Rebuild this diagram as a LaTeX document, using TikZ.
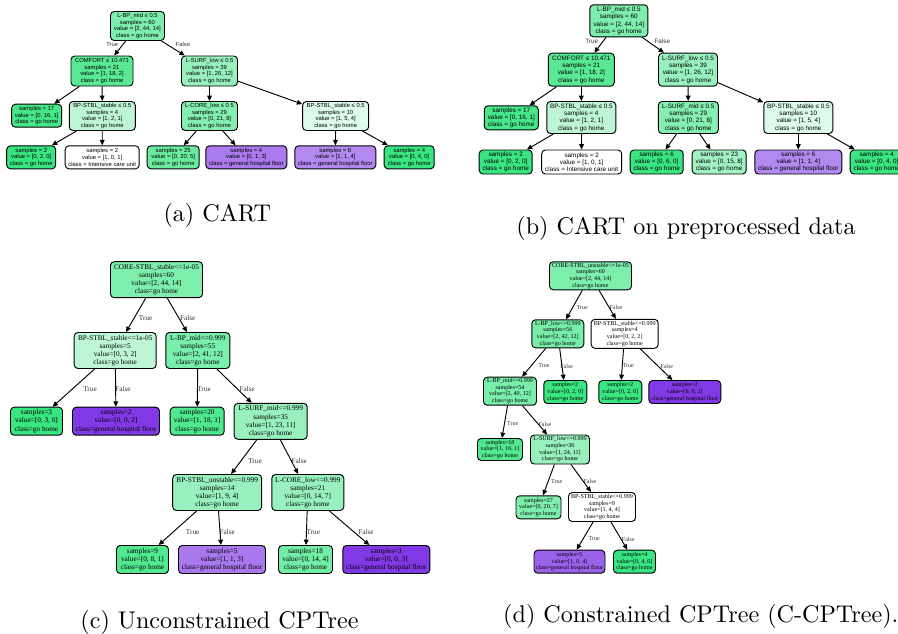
\documentclass[tikz,border=0pt]{standalone}
\usepackage{fontspec}
\newfontfamily\dtsans{Liberation Sans}
\newfontfamily\dtserif{Liberation Serif}
\usetikzlibrary{arrows.meta}
\definecolor{gohome}{HTML}{39E581}
\definecolor{hospfloor}{HTML}{8139E5}

\begin{document}
\begin{tikzpicture}[x=0.015cm, y=-0.015cm,
  box/.style 2 args={draw, rounded corners=1.6pt, line width=0.4pt, align=center,
    inner sep=0pt, minimum width=#1*0.015cm, minimum height=#2*0.015cm},
  g/.style={fill=gohome!#1!white},
  p/.style={fill=hospfloor!#1!white},
  wh/.style={fill=white},
  conn/.style={-{Triangle[length=2.3pt,width=2pt]}, line width=0.4pt},
  fa/.style={font=\dtsans\fontsize{2.5}{2.85}\selectfont},
  fb/.style={font=\dtsans\fontsize{2.7}{3.1}\selectfont},
  fc/.style={font=\dtserif\fontsize{3.1}{3.45}\selectfont},
  fd/.style={font=\dtserif\fontsize{2.58}{2.85}\selectfont},
  lbl/.style={text=black!80},
  captext/.style={font=\fontsize{10.3}{12}\selectfont}]
  \useasboundingbox (0,0) rectangle (898,633);

  % (a) CART
  \begin{scope}[every node/.style={fa}]
  \node[box={54}{29}, g=65] (a0) at (137.5,26) {L-BP\_mid ≤ 0.5\\samples = 60\\value = [2, 44, 14]\\class = go home};
  \node[box={62}{30}, g=84] (a1) at (102,71) {COMFORT ≤ 10.471\\samples = 21\\value = [1, 18, 2]\\class = go home};
  \node[box={56}{30}, g=52] (a2) at (209.5,71) {L-SURF\_low ≤ 0.5\\samples = 39\\value = [1, 26, 12]\\class = go home};
  \node[box={50}{23}, g=94] (a3) at (36.7,115.7) {samples = 17\\value = [0, 16, 1]\\class = go home};
  \node[box={66}{29}, g=33] (a4) at (102.3,116) {BP-STBL\_stable ≤ 0.5\\samples = 4\\value = [1, 2, 1]\\class = go home};
  \node[box={56}{29}, g=62] (a5) at (209.5,116) {L-CORE\_low ≤ 0.5\\samples = 29\\value = [0, 21, 8]\\class = go home};
  \node[box={66}{29}, g=17] (a6) at (335.7,116) {BP-STBL\_stable ≤ 0.5\\samples = 10\\value = [1, 5, 4]\\class = go home};
  \node[box={49}{23}, g=100] (a7) at (31.2,157.3) {samples = 2\\value = [0, 2, 0]\\class = go home};
  \node[box={74}{23}, wh] (a8) at (102.2,157.3) {samples = 2\\value = [1, 0, 1]\\class = Intensive care unit};
  \node[box={52}{23}, g=75] (a9) at (173.2,157.3) {samples = 25\\value = [0, 20, 5]\\class = go home};
  \node[box={81}{23}, p=67] (a10) at (246.3,157.3) {samples = 4\\value = [0, 1, 3]\\class = general hospital floor};
  \node[box={81}{23}, p=60] (a11) at (335.3,157.3) {samples = 6\\value = [1, 1, 4]\\class = general hospital floor};
  \node[box={50}{23}, g=100] (a12) at (409.2,157.3) {samples = 4\\value = [0, 4, 0]\\class = go home};
  \node[lbl] (aT) at (112.2,44.3) {True};
  \node[lbl] (aF) at (183,44.3) {False};
  \end{scope}
  \draw[conn] (a0) -- (a1);
  \draw[conn] (a0) -- (a2);
  \draw[conn] (a1) -- (a3);
  \draw[conn] (a1) -- (a4);
  \draw[conn] (a2) -- (a5);
  \draw[conn] (a2) -- (a6);
  \draw[conn] (a4) -- (a7);
  \draw[conn] (a4) -- (a8);
  \draw[conn] (a5) -- (a9);
  \draw[conn] (a5) -- (a10);
  \draw[conn] (a6) -- (a11);
  \draw[conn] (a6) -- (a12);
  \node[captext] (capa) at (217.3,215) {(a) CART};

  % (b) CART on preprocessed data
  \begin{scope}[every node/.style={fb}]
  \node[box={58}{32}, g=65] (b0) at (618.8,20.8) {L-BP\_mid ≤ 0.5\\samples = 60\\value = [2, 44, 14]\\class = go home};
  \node[box={66}{33}, g=84] (b1) at (581.3,69.7) {COMFORT ≤ 10.471\\samples = 21\\value = [1, 18, 2]\\class = go home};
  \node[box={59}{33}, g=52] (b2) at (688,69.7) {L-SURF\_low ≤ 0.5\\samples = 39\\value = [1, 26, 12]\\class = go home};
  \node[box={54}{24}, g=94] (b3) at (511.3,117.8) {samples = 17\\value = [0, 16, 1]\\class = go home};
  \node[box={69}{32}, g=33] (b4) at (581.3,117.5) {BP-STBL\_stable ≤ 0.5\\samples = 4\\value = [1, 2, 1]\\class = go home};
  \node[box={60}{32}, g=62] (b5) at (688.3,117.5) {L-SURF\_mid ≤ 0.5\\samples = 29\\value = [0, 21, 8]\\class = go home};
  \node[box={69}{32}, g=17] (b6) at (798.3,117.5) {BP-STBL\_stable ≤ 0.5\\samples = 10\\value = [1, 5, 4]\\class = go home};
  \node[box={53}{24}, g=100] (b7) at (505.7,162) {samples = 2\\value = [0, 2, 0]\\class = go home};
  \node[box={80}{24}, wh] (b8) at (581.7,162) {samples = 2\\value = [1, 0, 1]\\class = Intensive care unit};
  \node[box={53}{24}, g=100] (b9) at (656.7,162) {samples = 6\\value = [0, 6, 0]\\class = go home};
  \node[box={54}{24}, g=47] (b10) at (719.2,162) {samples = 23\\value = [0, 15, 8]\\class = go home};
  \node[box={87}{24}, p=60] (b11) at (798.3,162) {samples = 6\\value = [1, 1, 4]\\class = general hospital floor};
  \node[box={53}{24}, g=100] (b12) at (876.7,162) {samples = 4\\value = [0, 4, 0]\\class = go home};
  \node[lbl] (bT) at (591.7,41.7) {True};
  \node[lbl] (bF) at (662.3,41.7) {False};
  \end{scope}
  \draw[conn] (b0) -- (b1);
  \draw[conn] (b0) -- (b2);
  \draw[conn] (b1) -- (b3);
  \draw[conn] (b1) -- (b4);
  \draw[conn] (b2) -- (b5);
  \draw[conn] (b2) -- (b6);
  \draw[conn] (b4) -- (b7);
  \draw[conn] (b4) -- (b8);
  \draw[conn] (b5) -- (b9);
  \draw[conn] (b5) -- (b10);
  \draw[conn] (b6) -- (b11);
  \draw[conn] (b6) -- (b12);
  \node[captext] (capb) at (686,228) {(b) CART on preprocessed data};

  % (c) Unconstrained CPTree
  \begin{scope}[every node/.style={fc}]
  \node[box={92}{36}, g=65] (c0) at (156.5,279.7) {CORE-STBL\_stable<=1e-05\\samples=60\\value=[2, 44, 14]\\class=go home};
  \node[box={82}{36}, g=33] (c1) at (115.2,350.5) {BP-STBL\_stable<=1e-05\\samples=5\\value=[0, 3, 2]\\class=go home};
  \node[box={64}{36}, g=67] (c2) at (197.8,350.5) {L-BP\_mid<=0.999\\samples=55\\value=[2, 41, 12]\\class=go home};
  \node[box={52}{28}, g=100] (c3) at (36.5,421.2) {samples=3\\value=[0, 3, 0]\\class=go home};
  \node[box={87}{28}, p=100] (c4) at (116,421.2) {samples=2\\value=[0, 0, 2]\\class=general hospital floor};
  \node[box={54}{28}, g=89] (c5) at (197.2,421.2) {samples=20\\value=[1, 18, 1]\\class=go home};
  \node[box={73}{36}, g=52] (c6) at (270.7,421.3) {L-SURF\_mid<=0.999\\samples=35\\value=[1, 23, 11]\\class=go home};
  \node[box={89}{36}, g=52] (c7) at (217.2,492.5) {BP-STBL\_unstable<=0.999\\samples=14\\value=[1, 9, 4]\\class=go home};
  \node[box={72}{36}, g=52] (c8) at (307.8,492.5) {L-CORE\_low<=0.999\\samples=21\\value=[0, 14, 7]\\class=go home};
  \node[box={52}{28}, g=88] (c9) at (142.5,559.5) {samples=9\\value=[0, 8, 1]\\class=go home};
  \node[box={87}{28}, p=68] (c10) at (222,559.5) {samples=5\\value=[1, 1, 3]\\class=general hospital floor};
  \node[box={54}{28}, g=71] (c11) at (305.5,559.5) {samples=18\\value=[0, 14, 4]\\class=go home};
  \node[box={87}{28}, p=100] (c12) at (386.3,559.5) {samples=3\\value=[0, 0, 3]\\class=general hospital floor};
  \node[lbl] (c0T) at (145.7,318.3) {True};
  \node[lbl] (c0F) at (187.7,318.3) {False};
  \node[lbl] (c1T) at (90,389.3) {True};
  \node[lbl] (c1F) at (123,389.3) {False};
  \node[lbl] (c2T) at (204,389.3) {True};
  \node[lbl] (c2F) at (247.3,389.3) {False};
  \node[lbl] (c6T) at (255,460.7) {True};
  \node[lbl] (c6F) at (299.3,460.7) {False};
  \node[lbl] (c7T) at (192.7,531.7) {True};
  \node[lbl] (c7F) at (227.3,531.7) {False};
  \node[lbl] (c8T) at (313.3,531.7) {True};
  \node[lbl] (c8F) at (366,531.7) {False};
  \end{scope}
  \draw[conn] (c0) -- (c1);
  \draw[conn] (c0) -- (c2);
  \draw[conn] (c1) -- (c3);
  \draw[conn] (c1) -- (c4);
  \draw[conn] (c2) -- (c5);
  \draw[conn] (c2) -- (c6);
  \draw[conn] (c6) -- (c7);
  \draw[conn] (c6) -- (c8);
  \draw[conn] (c7) -- (c9);
  \draw[conn] (c7) -- (c10);
  \draw[conn] (c8) -- (c11);
  \draw[conn] (c8) -- (c12);
  \node[captext] (capc) at (219.5,622) {(c) Unconstrained CPTree};

  % (d) Constrained CPTree
  \begin{scope}[every node/.style={fd}]
  \node[box={82}{28}, g=65] (d0) at (590.5,275.8) {CORE-STBL\_unstable<=1e-05\\samples=60\\value=[2, 44, 14]\\class=go home};
  \node[box={52}{28}, g=68] (d1) at (557.8,333.8) {L-BP\_low<=0.999\\samples=56\\value=[2, 42, 12]\\class=go home};
  \node[box={67}{29}, wh] (d2) at (624.7,333.8) {BP-STBL\_stable<=0.999\\samples=4\\value=[0, 2, 2]\\class=go home};
  \node[box={53}{28}, g=67] (d3) at (510,391.2) {L-BP\_mid<=0.999\\samples=54\\value=[2, 40, 12]\\class=go home};
  \node[box={43}{23}, g=100] (d4) at (565.3,392) {samples=2\\value=[0, 2, 0]\\class=go home};
  \node[box={43}{23}, g=100] (d5) at (620.3,392) {samples=2\\value=[0, 2, 0]\\class=go home};
  \node[box={72}{23}, p=100] (d6) at (684.8,392) {samples=2\\value=[0, 0, 2]\\class=general hospital floor};
  \node[box={45}{22}, g=88] (d7) at (500,449.5) {samples=18\\value=[1, 16, 1]\\class=go home};
  \node[box={59}{29}, g=52] (d8) at (560,449.5) {L-SURF\_low<=0.999\\samples=36\\value=[1, 24, 11]\\class=go home};
  \node[box={45}{23}, g=65] (d9) at (538.5,507.3) {samples=27\\value=[0, 20, 7]\\class=go home};
  \node[box={67}{29}, wh] (d10) at (602,507) {BP-STBL\_stable<=0.999\\samples=9\\value=[1, 4, 4]\\class=go home};
  \node[box={71}{23}, p=80] (d11) at (569.5,561.7) {samples=5\\value=[1, 0, 4]\\class=general hospital floor};
  \node[box={42}{23}, g=100] (d12) at (634.5,561.7) {samples=4\\value=[0, 4, 0]\\class=go home};
  \node[lbl] (d0T) at (582.3,307.7) {True};
  \node[lbl] (d0F) at (616,307.7) {False};
  \node[lbl] (d1T) at (544,366) {True};
  \node[lbl] (d1F) at (566.7,366) {False};
  \node[lbl] (d2T) at (628.3,366) {True};
  \node[lbl] (d2F) at (666.7,366) {False};
  \node[lbl] (d3T) at (512.7,424) {True};
  \node[lbl] (d3F) at (545,424) {False};
  \node[lbl] (d8T) at (556.7,481.7) {True};
  \node[lbl] (d8F) at (590,481.7) {False};
  \node[lbl] (d10T) at (594.3,539) {True};
  \node[lbl] (d10F) at (628.3,539) {False};
  \end{scope}
  \draw[conn] (d0) -- (d1);
  \draw[conn] (d0) -- (d2);
  \draw[conn] (d1) -- (d3);
  \draw[conn] (d1) -- (d4);
  \draw[conn] (d2) -- (d5);
  \draw[conn] (d2) -- (d6);
  \draw[conn] (d3) -- (d7);
  \draw[conn] (d3) -- (d8);
  \draw[conn] (d8) -- (d9);
  \draw[conn] (d8) -- (d10);
  \draw[conn] (d10) -- (d11);
  \draw[conn] (d10) -- (d12);
  \node[captext] (capd) at (700.8,616) {(d) Constrained CPTree (C-CPTree).};
\end{tikzpicture}
\end{document}
